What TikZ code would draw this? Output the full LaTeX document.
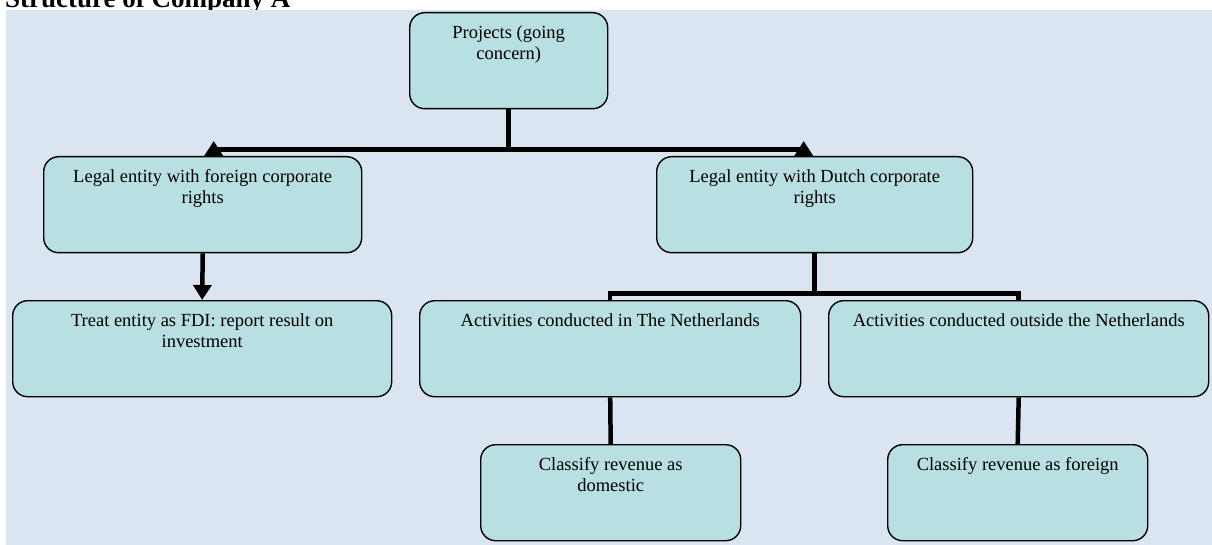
\documentclass[tikz,border=0pt]{standalone}
\usepackage{fontspec}
\setmainfont{Liberation Serif}
\usepackage{xcolor}
\usepackage{tikz}
\usetikzlibrary{arrows.meta, positioning}

\definecolor{canvas}{RGB}{219,229,241}
\definecolor{boxfill}{RGB}{184,223,226}
\newcommand{\boxtext}[3]{\parbox[c][#2][t]{#1}{\centering\rule{0pt}{25.5pt}#3}}

\begin{document}
\begin{tikzpicture}[x=1pt, y=-1pt,
  box/.style={draw=black, line width=1.4pt, fill=boxfill, rounded corners=15pt,
              inner sep=0pt, anchor=north west, font=\fontsize{18.5}{21.5}\selectfont},
  link/.style={line width=4.5pt, black},
  tip/.style={-{Triangle[length=15pt, width=18pt]}}
]
\useasboundingbox (0,0) rectangle (1212,545);
\node[anchor=base west, inner sep=0pt, font=\fontsize{27}{30}\selectfont\bfseries]
  (title) at (5,8) {Structure of Company A};
\fill[canvas] (6,10) rectangle (1212,545);

% boxes
\node[box] (proj) at (409,12)  {\boxtext{198pt}{96pt}{Projects (going\\concern)}};
\node[box] (lf)   at (43,156)  {\boxtext{318pt}{96pt}{Legal entity with foreign corporate\\rights}};
\node[box] (ld)   at (656,156) {\boxtext{316pt}{96pt}{Legal entity with Dutch corporate\\rights}};
\node[box] (fdi)  at (12,300)  {\boxtext{379pt}{96pt}{Treat entity as FDI: report result on\\investment}};
\node[box] (nl)   at (419,300) {\boxtext{381pt}{96pt}{Activities conducted in The Netherlands}};
\node[box] (out)  at (828,300) {\boxtext{380pt}{96pt}{Activities conducted outside the Netherlands}};
\node[box] (dom)  at (480,444) {\boxtext{260pt}{96pt}{Classify revenue as\\domestic}};
\node[box] (fgn)  at (887,444) {\boxtext{260pt}{96pt}{Classify revenue as foreign}};

% connectors
\draw[link] (proj.south) -- ++(0,40) coordinate (hubT);
\coordinate (lfUp) at ([xshift=11pt]lf.north);
\coordinate (ldUp) at ([xshift=-11pt]ld.north);
\draw[link] (hubT -| lfUp) -- (hubT -| ldUp);
\draw[link, tip] (lfUp) -- ++(0,-15);
\draw[link, tip] (ldUp) -- ++(0,-15);
\draw[link, tip] (lf.south) -- (fdi.north);
\draw[link] (ld.south) -- ++(0,40) coordinate (hubR);
\draw[link] (nl.north) |- (hubR) -| (out.north);
\draw[link] (nl.south) -- (dom.north);
\draw[link] (out.south) -- (fgn.north);
\end{tikzpicture}
\end{document}
